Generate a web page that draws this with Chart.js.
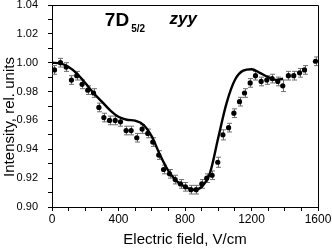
<!DOCTYPE html>
<html>
<head>
<meta charset="utf-8">
<script src="https://cdn.jsdelivr.net/npm/chart.js@4.4.0/dist/chart.umd.min.js"></script>
<style>
  html, body { margin: 0; padding: 0; background: #fff; }
</style>
</head>
<body>
<canvas id="grafik" width="332" height="249"></canvas>
<script>
// measured points (Electric field, V/cm -> intensity)
const field = [15, 51, 85, 117, 149, 181, 215, 250, 282, 312,
  346, 380, 412, 446, 476, 510, 542, 576, 606, 642,
  671, 707, 741, 773, 803, 835, 867, 901, 931, 963,
  997, 1028, 1062, 1094, 1128, 1158, 1192, 1224, 1258, 1292,
  1324, 1358, 1388, 1422, 1454, 1489, 1519, 1585];
const intensity = [0.995, 1.000, 0.997, 0.988, 0.991, 0.985, 0.981, 0.979, 0.969, 0.962,
  0.960, 0.960, 0.959, 0.953, 0.953, 0.948, 0.954, 0.951, 0.945, 0.936,
  0.926, 0.923, 0.919, 0.916, 0.914, 0.912, 0.912, 0.916, 0.920, 0.922,
  0.931, 0.950, 0.955, 0.965, 0.973, 0.979, 0.986, 0.991, 0.987, 0.988,
  0.989, 0.987, 0.984, 0.991, 0.991, 0.993, 0.995, 1.001];
const errors = [0.003, 0.003, 0.003, 0.003, 0.003, 0.003, 0.003, 0.003, 0.003, 0.003,
  0.003, 0.003, 0.003, 0.003, 0.003, 0.003, 0.003, 0.003, 0.003, 0.003,
  0.003, 0.003, 0.003, 0.003, 0.003, 0.003, 0.003, 0.003, 0.003, 0.003,
  0.0035, 0.0035, 0.003, 0.003, 0.003, 0.003, 0.003, 0.003, 0.003, 0.003,
  0.003, 0.003, 0.004, 0.003, 0.003, 0.003, 0.003, 0.003];

// calculated curve
const curveField = [0, 50, 100, 150, 200, 250, 300, 350, 400, 450,
  500, 550, 600, 650, 700, 750, 800, 850, 900, 950,
  1000, 1050, 1100, 1150, 1200, 1250, 1300, 1350, 1390];
const curveIntensity = [1.000, 0.9995, 0.997, 0.9925, 0.986, 0.979, 0.973, 0.967, 0.9625, 0.9605,
  0.9598, 0.957, 0.949, 0.936, 0.925, 0.918, 0.914, 0.912, 0.914, 0.9235,
  0.948, 0.972, 0.988, 0.9945, 0.9955, 0.993, 0.990, 0.988, 0.989];

const xLabels = [0, 400, 800, 1200, 1600];
const yLabels = ['0.90', '0.92', '0.94', '0.96', '0.98', '1.00', '1.02', '1.04'];

const fontFam = '"Liberation Sans", Arial, sans-serif';

const errorBars = {
  id: 'errorBars',
  beforeDatasetsDraw(chart) {
    const ctx = chart.ctx;
    const xs = chart.scales.x;
    const ys = chart.scales.y;
    ctx.save();
    ctx.strokeStyle = '#6e6e6e';
    ctx.lineWidth = 1;
    for (let i = 0; i < field.length; i++) {
      const x = Math.round(xs.getPixelForValue(field[i])) + 0.5;
      const yTop = ys.getPixelForValue(intensity[i] + errors[i]);
      const yBot = ys.getPixelForValue(intensity[i] - errors[i]);
      ctx.beginPath();
      ctx.moveTo(x, yTop); ctx.lineTo(x, yBot);
      ctx.moveTo(x - 2.5, yTop); ctx.lineTo(x + 2.5, yTop);
      ctx.moveTo(x - 2.5, yBot); ctx.lineTo(x + 2.5, yBot);
      ctx.stroke();
    }
    ctx.restore();
  }
};

const frameAndText = {
  id: 'frameAndText',
  afterDraw(chart) {
    const ctx = chart.ctx;
    const a = chart.chartArea;
    const xs = chart.scales.x;
    const ys = chart.scales.y;
    ctx.save();
    // top and right border
    ctx.strokeStyle = '#000';
    ctx.lineWidth = 1;
    ctx.beginPath();
    ctx.moveTo(Math.round(a.left), Math.round(a.top) + 0.5);
    ctx.lineTo(Math.round(a.right) + 0.5, Math.round(a.top) + 0.5);
    ctx.lineTo(Math.round(a.right) + 0.5, Math.round(a.bottom));
    ctx.stroke();

    // y axis title
    ctx.fillStyle = '#000';
    ctx.font = '15px ' + fontFam;
    ctx.textAlign = 'center';
    ctx.textBaseline = 'middle';
    ctx.translate(10, 117);
    ctx.rotate(-Math.PI / 2);
    ctx.fillText('Intensity, rel. units', 0, 0);
    ctx.setTransform(1, 0, 0, 1, 0, 0);

    // state label
    ctx.textAlign = 'left';
    ctx.textBaseline = 'alphabetic';
    const tx = xs.getPixelForValue(318);
    const ty = ys.getPixelForValue(1.0255);
    ctx.font = 'bold 19px ' + fontFam;
    ctx.fillText('7D', tx, ty);
    const w = ctx.measureText('7D').width;
    ctx.font = 'bold 10px ' + fontFam;
    ctx.fillText('5/2', tx + w + 2, ty + 6);
    ctx.font = 'italic bold 17px ' + fontFam;
    ctx.fillText('zyy', xs.getPixelForValue(707), ys.getPixelForValue(1.0265));
    ctx.restore();
  }
};

const chart = new Chart(document.getElementById('grafik'), {
  type: 'scatter',
  data: {
    datasets: [{
      label: 'experiment',
      data: field.map((f, i) => ({ x: f, y: intensity[i] })),
      pointRadius: 2.6,
      pointBackgroundColor: '#000',
      pointBorderWidth: 0,
      order: 2
    }, {
      label: 'calculation',
      data: curveField.map((f, i) => ({ x: f, y: curveIntensity[i] })),
      showLine: true,
      pointRadius: 0,
      borderColor: '#000',
      borderWidth: 2.4,
      cubicInterpolationMode: 'monotone',
      order: 1
    }]
  },
  options: {
    responsive: false,
    animation: false,
    devicePixelRatio: 1,
    layout: { padding: { top: 5, right: 14, left: 0, bottom: 0 } },
    plugins: { legend: { display: false }, tooltip: { enabled: false } },
    scales: {
      x: {
        type: 'linear',
        min: 0,
        max: 1600,
        afterFit: (s) => { s.height = 42; s.paddingLeft = 0; s.paddingRight = 0; },
        grid: { drawOnChartArea: false, tickLength: 4, tickColor: '#000' },
        border: { color: '#000', width: 1 },
        ticks: {
          stepSize: 100,
          autoSkip: false,
          maxRotation: 0,
          padding: 1,
          color: '#000',
          font: { family: fontFam, size: 12 },
          callback: (v) => xLabels.includes(v) ? String(v) : ''
        },
        title: {
          display: true,
          text: 'Electric field, V/cm',
          color: '#000',
          font: { family: fontFam, size: 15 },
          padding: { top: 0, bottom: 0 }
        }
      },
      y: {
        type: 'linear',
        min: 0.90,
        max: 1.04,
        afterFit: (s) => { s.width = 52; s.paddingTop = 0; s.paddingBottom = 0; },
        grid: { drawOnChartArea: false, tickLength: 4, tickColor: '#000' },
        border: { color: '#000', width: 1 },
        ticks: {
          stepSize: 0.01,
          autoSkip: false,
          padding: 10,
          color: '#000',
          font: { family: fontFam, size: 11 },
          callback: (v) => {
            const lbl = (Math.round(v * 100) / 100).toFixed(2);
            return yLabels.includes(lbl) && Math.round(v * 100) % 2 === 0 ? lbl : '';
          }
        }
      }
    }
  },
  plugins: [errorBars, frameAndText]
});
</script>
</body>
</html>
